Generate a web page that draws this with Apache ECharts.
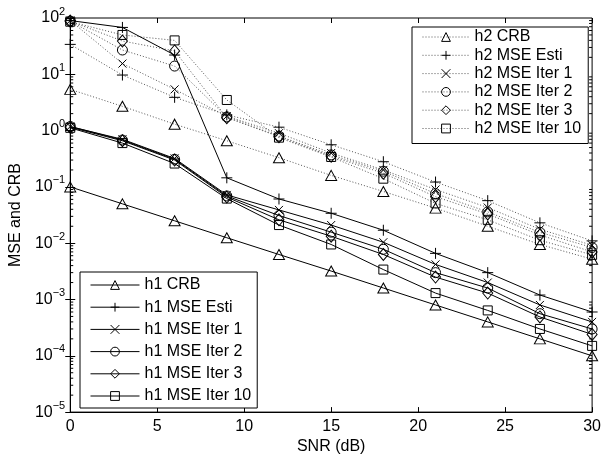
<!DOCTYPE html>
<html>
<head>
<meta charset="utf-8">
<script src="https://cdn.jsdelivr.net/npm/echarts@6/dist/echarts.min.js"></script>
<style>
html,body{margin:0;padding:0;background:#fff;}
#chart{width:604px;height:460px;}
</style>
</head>
<body>
<div id="chart"></div>
<script>
// ---- data ----
var snr = [0, 3, 6, 9, 12, 15, 18, 21, 24, 27, 30];
var xTicks = [0, 5, 10, 15, 20, 25, 30];
var yTickExponents = [-5, -4, -3, -2, -1, 0, 1, 2];

var h2CRB    = [5.4, 2.7, 1.3, 0.66, 0.33, 0.16, 0.083, 0.042, 0.02, 0.0095, 0.0052];
var h2Esti   = [34, 9.7, 3.9, 1.9, 1.15, 0.56, 0.28, 0.122, 0.057, 0.023, 0.011];
var h2Iter1  = [90, 15.5, 5.4, 1.8, 0.9, 0.4, 0.2, 0.09, 0.043, 0.0177, 0.0092];
var h2Iter2  = [88, 27, 14, 1.75, 0.8, 0.37, 0.19, 0.076, 0.036, 0.0156, 0.0084];
var h2Iter3  = [88, 39, 26, 1.7, 0.78, 0.35, 0.175, 0.067, 0.033, 0.014, 0.007];
var h2Iter10 = [86, 50, 40, 3.5, 0.75, 0.34, 0.14, 0.051, 0.026, 0.0113, 0.0062];

var h1CRB    = [0.1, 0.05, 0.025, 0.0125, 0.0063, 0.0032, 0.0016, 0.0008, 0.0004, 0.0002, 0.0001];
var h1Esti   = [90, 68, 22, 0.145, 0.061, 0.034, 0.017, 0.0066, 0.003, 0.0012, 0.0006];
var h1Iter1  = [1.18, 0.7, 0.32, 0.072, 0.039, 0.021, 0.0104, 0.0042, 0.002, 0.0008, 0.0004];
var h1Iter2  = [1.18, 0.68, 0.31, 0.069, 0.031, 0.0157, 0.0078, 0.003, 0.0016, 0.00056, 0.0003];
var h1Iter3  = [1.15, 0.66, 0.3, 0.066, 0.026, 0.0133, 0.0063, 0.0025, 0.0013, 0.00049, 0.00024];
var h1Iter10 = [1.12, 0.6, 0.26, 0.062, 0.021, 0.0095, 0.0034, 0.0013, 0.00064, 0.0003, 0.00015];

var h2Names = ['h2 CRB', 'h2 MSE Esti', 'h2 MSE Iter 1', 'h2 MSE Iter 2', 'h2 MSE Iter 3', 'h2 MSE Iter 10'];
var h1Names = ['h1 CRB', 'h1 MSE Esti', 'h1 MSE Iter 1', 'h1 MSE Iter 2', 'h1 MSE Iter 3', 'h1 MSE Iter 10'];

// ---- styling ----
var FONT = '"Liberation Sans", Arial, Helvetica, sans-serif';
var SYM = {
  tri:   {symbol: 'triangle', size: [11, 10]},
  plus:  {symbol: 'path://M0,5L10,5M5,0L5,10', size: 11},
  cross: {symbol: 'path://M0,0L10,10M10,0L0,10', size: 8},
  circ:  {symbol: 'circle', size: 10},
  dia:   {symbol: 'diamond', size: [10, 12]},
  sq:    {symbol: 'rect', size: 9}
};
var symOrder = ['tri', 'plus', 'cross', 'circ', 'dia', 'sq'];

function pairs(arr) { return snr.map(function (x, i) { return [x, arr[i]]; }); }

function makeSeries(name, arr, symKey, dotted) {
  var s = SYM[symKey];
  return {
    name: name,
    type: 'line',
    data: pairs(arr),
    symbol: s.symbol,
    symbolSize: s.size,
    showAllSymbol: true,
    silent: true,
    animation: false,
    itemStyle: {color: 'rgba(0,0,0,0)', borderColor: '#000', borderWidth: 1},
    lineStyle: {color: dotted ? '#555' : '#000', width: 1, type: dotted ? [1, 2] : 'solid'},
    emphasis: {disabled: true}
  };
}

var h2Data = [h2CRB, h2Esti, h2Iter1, h2Iter2, h2Iter3, h2Iter10];
var h1Data = [h1CRB, h1Esti, h1Iter1, h1Iter2, h1Iter3, h1Iter10];

var series = [];
for (var i = 0; i < 6; i++) series.push(makeSeries(h2Names[i], h2Data[i], symOrder[i], true));
for (var j = 0; j < 6; j++) series.push(makeSeries(h1Names[j], h1Data[j], symOrder[j], false));

// minor log ticks (axis decoration, left and right edges)
var minorVals = [];
yTickExponents.slice(0, -1).forEach(function (e) {
  for (var k = 2; k <= 9; k++) minorVals.push([0, k * Math.pow(10, e)]);
});
series.push({
  type: 'custom',
  silent: true,
  animation: false,
  data: minorVals,
  clip: false,
  renderItem: function (params, api) {
    var y = api.coord([0, api.value(1)])[1];
    var cs = params.coordSys;
    return {
      type: 'group',
      children: [
        {type: 'line', shape: {x1: cs.x, y1: y, x2: cs.x + 3, y2: y}, style: {stroke: '#000', lineWidth: 1}},
        {type: 'line', shape: {x1: cs.x + cs.width - 3, y1: y, x2: cs.x + cs.width, y2: y}, style: {stroke: '#000', lineWidth: 1}}
      ]
    };
  }
});

var legendText = {color: '#000', fontSize: 16, fontFamily: FONT, lineHeight: 16};
var legendItem = {borderWidth: 1, borderColor: '#000', color: 'rgba(0,0,0,0)'};

var option = {
  backgroundColor: '#fff',
  animation: false,
  grid: {left: 68, right: 8, top: 18, bottom: 42, show: true, borderColor: '#000', borderWidth: 1, backgroundColor: 'transparent'},
  legend: [
    {
      data: h2Names, orient: 'vertical', left: 412, top: 27,
      padding: [2, 7, 7, 10], itemGap: 2.3, itemWidth: 47, itemHeight: 11,
      borderColor: '#000', borderWidth: 1, backgroundColor: '#fff',
      itemStyle: legendItem, lineStyle: {width: 1},
      textStyle: legendText, selectedMode: false
    },
    {
      data: h1Names, orient: 'vertical', left: 80, top: 272,
      padding: [5, 6, 4, 10], itemGap: 6.2, itemWidth: 49, itemHeight: 11,
      borderColor: '#000', borderWidth: 1, backgroundColor: '#fff',
      itemStyle: legendItem, lineStyle: {width: 1},
      textStyle: legendText, selectedMode: false
    }
  ],
  xAxis: [
    {
      type: 'value', min: xTicks[0], max: xTicks[xTicks.length - 1], interval: 5, position: 'bottom',
      name: 'SNR (dB)', nameLocation: 'middle', nameGap: 25,
      nameTextStyle: {color: '#000', fontSize: 16, fontFamily: FONT},
      axisLine: {show: true, lineStyle: {color: '#000', width: 1}},
      axisTick: {show: true, inside: true, length: 5, lineStyle: {color: '#000'}},
      axisLabel: {color: '#000', fontSize: 16, fontFamily: FONT, margin: 6},
      splitLine: {show: false}
    },
    {
      type: 'value', min: xTicks[0], max: xTicks[xTicks.length - 1], interval: 5, position: 'top',
      axisLine: {show: false},
      axisTick: {show: true, inside: true, length: 5, lineStyle: {color: '#000'}},
      axisLabel: {show: false},
      splitLine: {show: false}
    }
  ],
  yAxis: [
    {
      type: 'log', logBase: 10, min: Math.pow(10, yTickExponents[0]), max: Math.pow(10, yTickExponents[yTickExponents.length - 1]),
      interval: 1, splitNumber: 7, position: 'left',
      name: 'MSE and CRB', nameLocation: 'middle', nameGap: 24, nameRotate: 90,
      nameTextStyle: {color: '#000', fontSize: 16, fontFamily: FONT},
      axisLine: {show: true, lineStyle: {color: '#000', width: 1}},
      axisTick: {show: true, inside: true, length: 5, lineStyle: {color: '#000'}},
      axisLabel: {
        color: '#000', margin: 5,
        formatter: function (v) {
          var e = Math.round(Math.log10(v));
          return '{b|10}{e|' + (e < 0 ? '\u2212' + (-e) : e) + '}';
        },
        rich: {
          b: {fontSize: 16, fontFamily: FONT, color: '#000'},
          e: {fontSize: 11, fontFamily: FONT, color: '#000', padding: [0, 0, 13, 0]}
        }
      },
      splitLine: {show: false}
    },
    {
      type: 'log', logBase: 10, min: Math.pow(10, yTickExponents[0]), max: Math.pow(10, yTickExponents[yTickExponents.length - 1]),
      interval: 1, splitNumber: 7, position: 'right',
      axisLine: {show: false},
      axisTick: {show: true, inside: true, length: 5, lineStyle: {color: '#000'}},
      axisLabel: {show: false},
      splitLine: {show: false}
    }
  ],
  series: series
};

var chart = echarts.init(document.getElementById('chart'), null, {renderer: 'canvas'});
chart.setOption(option);
</script>
</body>
</html>
